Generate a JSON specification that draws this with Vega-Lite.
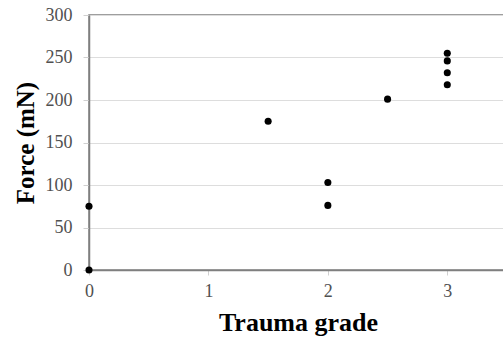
{
  "$schema": "https://vega.github.io/schema/vega-lite/v6.json",
  "autosize": "none",
  "padding": {"left": 89, "top": 15, "right": 0, "bottom": 71},
  "width": 418,
  "height": 255,
  "background": "white",
  "config": {
    "view": {"stroke": "#7f7f7f", "strokeWidth": 1.5},
    "font": "Liberation Serif"
  },
  "data": {
    "values": [
      {"grade": 0, "force": 0},
      {"grade": 0, "force": 75},
      {"grade": 1.5, "force": 175},
      {"grade": 2, "force": 103},
      {"grade": 2, "force": 76},
      {"grade": 2.5, "force": 201},
      {"grade": 3, "force": 255},
      {"grade": 3, "force": 246},
      {"grade": 3, "force": 232},
      {"grade": 3, "force": 218}
    ]
  },
  "mark": {"type": "point", "filled": true, "color": "black", "opacity": 1, "size": 50, "clip": false},
  "encoding": {
    "x": {
      "field": "grade", "type": "quantitative",
      "scale": {"domain": [0, 3.5], "nice": false, "zero": false},
      "axis": {
        "values": [0, 1, 2, 3], "format": "d", "grid": false, "labelFlush": false,
        "title": "Trauma grade", "titleFont": "Liberation Serif", "titleFontSize": 26, "titleFontWeight": "bold", "titleColor": "black",
        "titleX": 209, "titlePadding": 9,
        "labelFont": "Liberation Serif", "labelFontSize": 18, "labelColor": "#505050", "labelPadding": 7,
        "domainColor": "#7f7f7f", "domainWidth": 1.5,
        "tickColor": "#d0d0d0", "tickSize": 5
      }
    },
    "y": {
      "field": "force", "type": "quantitative",
      "scale": {"domain": [0, 300], "nice": false},
      "axis": {
        "values": [0, 50, 100, 150, 200, 250, 300],
        "title": "Force (mN)", "titleFont": "Liberation Serif", "titleFontSize": 25, "titleFontWeight": "bold", "titleColor": "black",
        "titlePadding": 7,
        "labelFont": "Liberation Serif", "labelFontSize": 18, "labelColor": "#505050", "labelPadding": 11,
        "gridColor": "#dddddd", "gridWidth": 1,
        "domainColor": "#7f7f7f", "domainWidth": 1.5,
        "tickColor": "#d0d0d0", "tickSize": 6
      }
    }
  }
}
